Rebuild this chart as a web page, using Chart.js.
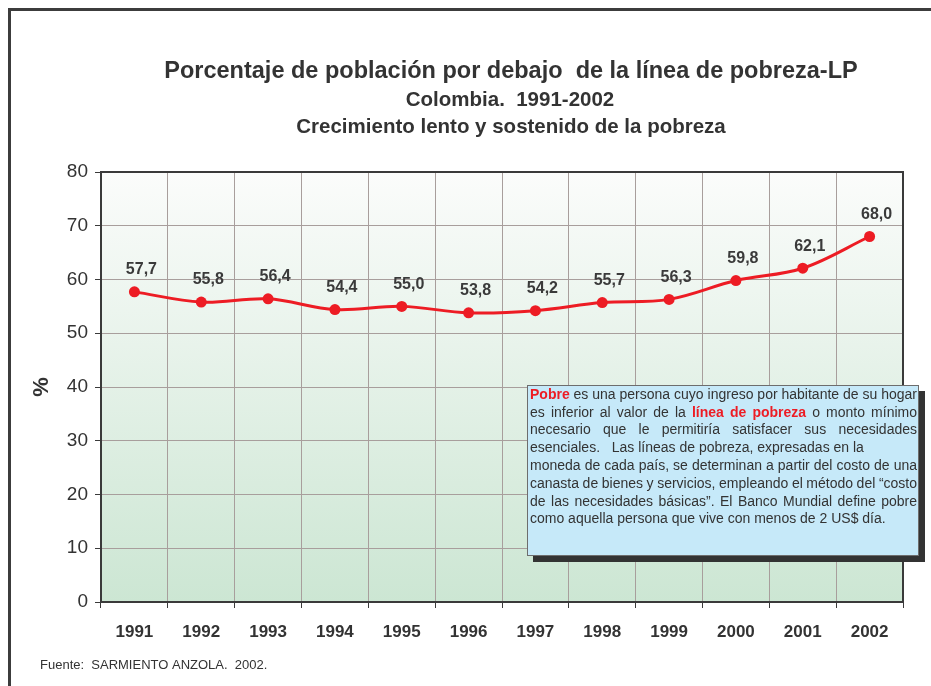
<!DOCTYPE html>
<html>
<head>
<meta charset="utf-8">
<script src="https://cdn.jsdelivr.net/npm/chart.js@4.4.0/dist/chart.umd.min.js"></script>
<style>
  html, body { margin: 0; padding: 0; background: #fff; }
  #wrap { position: relative; width: 931px; height: 686px; }
</style>
</head>
<body>
<div id="wrap"><canvas id="chart" width="931" height="686"></canvas></div>
<script>
// --- data ---
const years = ['1991', '1992', '1993', '1994', '1995', '1996', '1997', '1998', '1999', '2000', '2001', '2002'];
const pobreza = [57.7, 55.8, 56.4, 54.4, 55.0, 53.8, 54.2, 55.7, 56.3, 59.8, 62.1, 68.0];
const yMin = 0, yMax = 80, yStep = 10;

const titleLines = [
  'Porcentaje de población por debajo  de la línea de pobreza-LP',
  'Colombia.  1991-2002',
  'Crecimiento lento y sostenido de la pobreza'
];
const fuente = 'Fuente:  SARMIENTO ANZOLA.  2002.';

// note box: each line is a list of [text, highlighted], plus whether it is justified
const noteLines = [
  { just: true, runs: [['Pobre', true], [' es una persona cuyo ingreso por habitante de su hogar', false]] },
  { just: true, runs: [['es inferior al valor de la ', false], ['línea de pobreza', true], [' o monto mínimo', false]] },
  { just: true, runs: [['necesario que le permitiría satisfacer sus necesidades', false]] },
  { just: false, runs: [['esenciales.   Las líneas de pobreza, expresadas en la', false]] },
  { just: true, runs: [['moneda de cada país, se determinan a partir del costo de una', false]] },
  { just: true, runs: [['canasta de bienes y servicios, empleando el método del “costo', false]] },
  { just: true, runs: [['de las necesidades básicas”.  El Banco Mundial define pobre', false]] },
  { just: false, runs: [['como aquella persona que vive con menos de 2 US$ día.', false]] }
];

const FONT = '"Liberation Sans", Arial, Helvetica, sans-serif';
const RED = '#ed1c24';
const INK = '#333333';

// --- plot background gradient ---
const bgPlugin = {
  id: 'plotBg',
  beforeDraw(chart) {
    const { ctx, chartArea: a } = chart;
    const g = ctx.createLinearGradient(0, a.top, 0, a.bottom);
    g.addColorStop(0, '#fbfcfb');
    g.addColorStop(1, '#cce6d3');
    ctx.save();
    ctx.fillStyle = g;
    ctx.fillRect(a.left, a.top, a.right - a.left, a.bottom - a.top);
    ctx.restore();
  }
};

// --- frames, titles, footnote, note box ---
const decoPlugin = {
  id: 'deco',
  beforeDatasetsDraw(chart) {
    const { ctx, chartArea: a } = chart;
    ctx.save();
    ctx.strokeStyle = '#3a3a3a';
    ctx.lineWidth = 2;
    ctx.strokeRect(a.left, a.top, a.right - a.left, a.bottom - a.top);
    ctx.restore();
  },
  afterDraw(chart) {
    const { ctx } = chart;
    ctx.save();
    // outer frame (top and left)
    ctx.fillStyle = '#3c3c3c';
    ctx.fillRect(8, 8, 931 - 8, 3);
    ctx.fillRect(8, 8, 3, 686 - 8);

    // titles
    ctx.fillStyle = INK;
    ctx.textAlign = 'center';
    ctx.textBaseline = 'middle';
    ctx.font = 'bold 23.5px ' + FONT;
    ctx.fillText(titleLines[0], 511, 72);
    ctx.font = 'bold 20.5px ' + FONT;
    ctx.fillText(titleLines[1], 510, 100);
    ctx.fillText(titleLines[2], 511, 127);

    // footnote
    ctx.font = '13px ' + FONT;
    ctx.textAlign = 'left';
    ctx.fillText(fuente, 40, 665);

    // note box with shadow
    const bx = 527, by = 385, bw = 392, bh = 171;
    ctx.fillStyle = '#333333';
    ctx.fillRect(bx + 6, by + 6, bw, bh);
    ctx.fillStyle = '#c6e9f9';
    ctx.fillRect(bx, by, bw, bh);
    ctx.strokeStyle = '#6d6d6d';
    ctx.lineWidth = 1;
    ctx.strokeRect(bx + 0.5, by + 0.5, bw - 1, bh - 1);

    const tx = 530, tw = 387;
    const norm = '14px ' + FONT, bold = 'bold 14px ' + FONT;
    noteLines.forEach((line, i) => {
      const y = 395 + i * 17.8;
      ctx.textBaseline = 'middle';
      if (!line.just) {
        let x = tx;
        line.runs.forEach(([t, hi]) => {
          ctx.font = hi ? bold : norm;
          ctx.fillStyle = hi ? RED : INK;
          ctx.fillText(t, x, y);
          x += ctx.measureText(t).width;
        });
        return;
      }
      // split runs into words, keeping highlight flag
      const words = [];
      let brk = true;
      line.runs.forEach(([t, hi]) => {
        const parts = t.split(' ');
        parts.forEach((p, k) => {
          if (k > 0) brk = true;
          if (p === '') return;
          if (!brk && words.length) words[words.length - 1].segs.push([p, hi]);
          else words.push({ segs: [[p, hi]] });
          brk = false;
        });
        if (t.endsWith(' ')) brk = true;
      });
      let total = 0;
      words.forEach(w => {
        w.width = 0;
        w.segs.forEach(([p, hi]) => { ctx.font = hi ? bold : norm; w.width += ctx.measureText(p).width; });
        total += w.width;
      });
      const gap = (tw - total) / (words.length - 1);
      let x = tx;
      words.forEach(w => {
        let sx = x;
        w.segs.forEach(([p, hi]) => {
          ctx.font = hi ? bold : norm;
          ctx.fillStyle = hi ? RED : INK;
          ctx.fillText(p, sx, y);
          sx += ctx.measureText(p).width;
        });
        x += w.width + gap;
      });
    });
    ctx.restore();
  }
};

// --- value labels above the points ---
const valueLabels = {
  id: 'valueLabels',
  afterDatasetsDraw(chart) {
    const { ctx } = chart;
    const meta = chart.getDatasetMeta(0);
    ctx.save();
    ctx.font = 'bold 16px ' + FONT;
    ctx.fillStyle = '#3a3a3a';
    ctx.textAlign = 'center';
    ctx.textBaseline = 'middle';
    meta.data.forEach((pt, i) => {
      const txt = pobreza[i].toFixed(1).replace('.', ',');
      ctx.fillText(txt, pt.x + 7, pt.y - 22);
    });
    ctx.restore();
  }
};

new Chart(document.getElementById('chart'), {
  type: 'line',
  data: {
    labels: years,
    datasets: [{
      data: pobreza,
      borderColor: RED,
      backgroundColor: RED,
      borderWidth: 3,
      tension: 0.35,
      pointRadius: 5.5,
      pointBorderWidth: 0,
      pointBackgroundColor: RED,
      fill: false
    }]
  },
  options: {
    responsive: false,
    animation: false,
    layout: { padding: { left: 29, top: 172, right: 28, bottom: 0 } },
    plugins: {
      legend: { display: false },
      tooltip: { enabled: false },
      title: { display: false }
    },
    scales: {
      x: {
        offset: true,
        grid: { offset: true, color: '#a89e9c', lineWidth: 1, tickLength: 6, tickColor: '#3a3a3a' },
        border: { display: true, color: '#3a3a3a', width: 2 },
        ticks: { color: INK, padding: 14, font: { family: FONT, size: 17, weight: 'bold' }, maxRotation: 0 },
        afterFit(scale) { scale.height = 84; }
      },
      y: {
        min: yMin,
        max: yMax,
        ticks: { stepSize: yStep, color: INK, padding: 7, font: { family: FONT, size: 19 } },
        grid: { color: '#a89e9c', lineWidth: 1, tickLength: 6, tickColor: '#3a3a3a' },
        border: { display: true, color: '#3a3a3a', width: 2 },
        title: { display: true, text: '%', color: INK, padding: 0, font: { family: FONT, size: 22, weight: 'bold' } },
        afterFit(scale) { scale.width = 72; }
      }
    }
  },
  plugins: [bgPlugin, decoPlugin, valueLabels]
});
</script>
</body>
</html>
